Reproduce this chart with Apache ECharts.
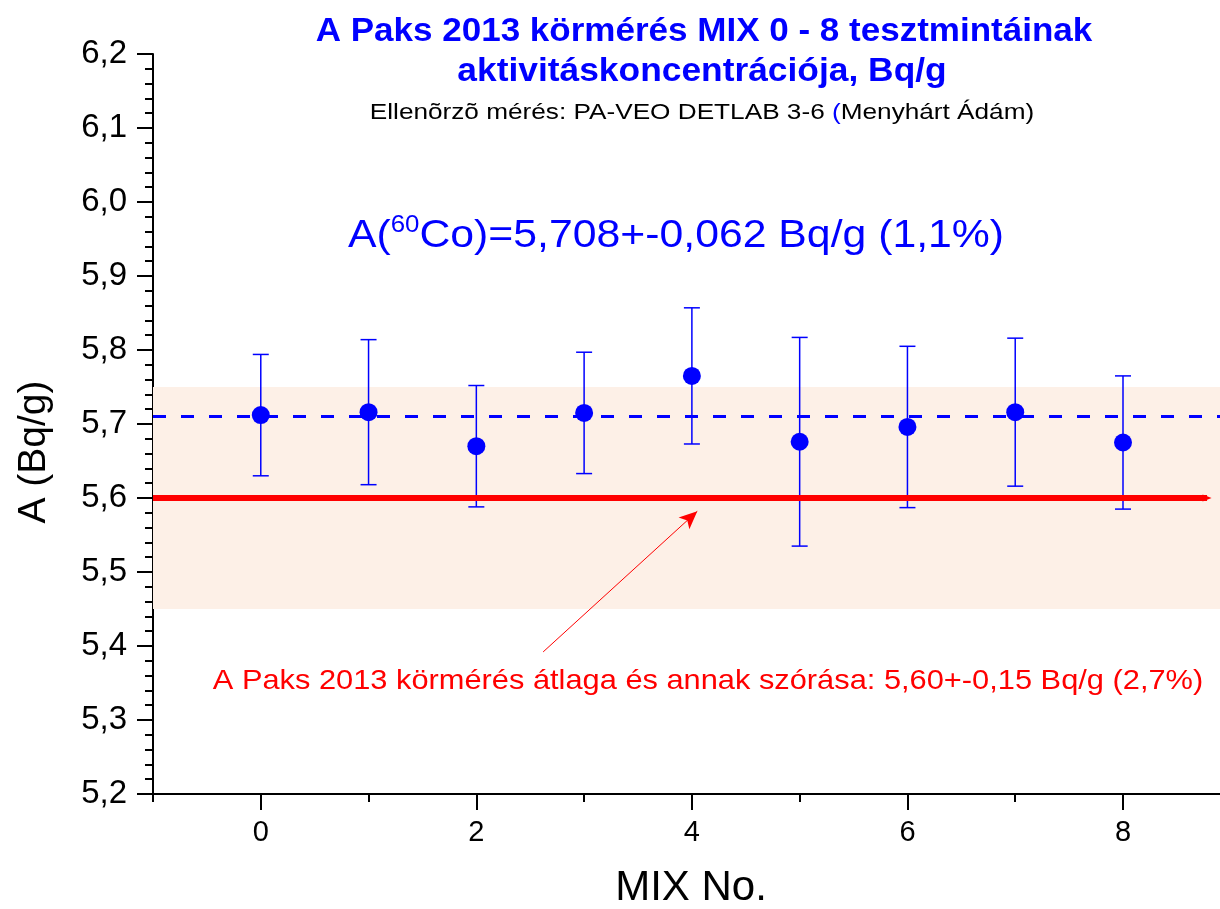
<!DOCTYPE html>
<html>
<head>
<meta charset="utf-8">
<title>A Paks 2013 körmérés MIX 0 - 8</title>
<script src="https://cdn.jsdelivr.net/npm/echarts@6/dist/echarts.min.js"></script>
<style>
  html, body { margin: 0; padding: 0; background: #ffffff; }
  #chart { width: 1220px; height: 909px; }
</style>
</head>
<body>
<div id="chart"></div>
<script>
// MIX test samples and their measured 60Co activity concentration (Bq/g)
const mixNo = [0, 1, 2, 3, 4, 5, 6, 7, 8];
const activity = [5.712, 5.716, 5.670, 5.715, 5.765, 5.676, 5.696, 5.716, 5.675];
const uncertainty = [0.082, 0.098, 0.082, 0.082, 0.092, 0.141, 0.109, 0.100, 0.090];

// Mean of the check measurement and the round-robin reference value
const checkMean = 5.708;
const refMean = 5.60;
const refSd = 0.15;

// Axis ticks
const xMajorTicks = [0, 2, 4, 6, 8];
const xMinorTicks = [-1, 1, 3, 5, 7];
const yTicks = [5.2, 5.3, 5.4, 5.5, 5.6, 5.7, 5.8, 5.9, 6.0, 6.1, 6.2];

// Arrow from the reference-value caption to the red line
const arrowFrom = [2.62, 5.392];
const arrowTo = [4.05, 5.582];

const FONT = "'Liberation Sans', Arial, sans-serif";
const BLUE = '#0000FF';
const RED = '#FF0000';

const points = mixNo.map((x, i) => [x, activity[i]]);
const bars = mixNo.map((x, i) => [x, activity[i] - uncertainty[i], activity[i] + uncertainty[i]]);

const chart = echarts.init(document.getElementById('chart'), null, { renderer: 'canvas' });

// centred text block, optionally widened horizontally
function label(x, y, text, style, scaleX) {
  return {
    type: 'text',
    x: x, y: y,
    scaleX: scaleX || 1,
    style: Object.assign({ x: 0, y: 0, text: text, textAlign: 'center', textVerticalAlign: 'middle' }, style)
  };
}

const option = {
  animation: false,
  backgroundColor: '#ffffff',
  grid: { left: 153, right: 0, top: 54, bottom: 115, containLabel: false },
  xAxis: [
    {
      type: 'value',
      min: -1,
      max: 8.9,
      position: 'bottom',
      splitLine: { show: false },
      axisLine: { show: true, onZero: false, lineStyle: { color: '#000', width: 2 } },
      axisTick: { show: true, length: 16, customValues: xMajorTicks, lineStyle: { color: '#000', width: 2 } },
      axisLabel: {
        customValues: xMajorTicks,
        margin: 24,
        color: '#000',
        fontFamily: FONT,
        fontSize: 29,
        formatter: v => String(v)
      }
    },
    {
      type: 'value',
      min: -1,
      max: 8.9,
      position: 'bottom',
      splitLine: { show: false },
      axisLine: { show: false, onZero: false },
      axisTick: { show: true, length: 8, customValues: xMinorTicks, lineStyle: { color: '#000', width: 2 } },
      axisLabel: { show: false }
    }
  ],
  yAxis: {
    type: 'value',
    min: 5.2,
    max: 6.2,
    interval: 0.1,
    splitLine: { show: false },
    axisLine: { show: true, onZero: false, lineStyle: { color: '#000', width: 2 } },
    axisTick: { show: true, length: 16, lineStyle: { color: '#000', width: 2 } },
    minorTick: { show: true, splitNumber: 5, length: 8, lineStyle: { color: '#000', width: 2 } },
    axisLabel: {
      customValues: yTicks,
      margin: 26,
      color: '#000',
      fontFamily: FONT,
      fontSize: 33,
      formatter: v => v.toFixed(1).replace('.', ',')
    }
  },
  series: [
    {
      // reference band (mean ± SD) and the check-measurement mean
      name: 'band',
      type: 'line',
      data: [],
      silent: true,
      z: 1,
      markArea: {
        silent: true,
        itemStyle: { color: '#FDF0E7' },
        data: [[{ yAxis: refMean - refSd }, { yAxis: refMean + refSd }]]
      },
      markLine: {
        silent: true,
        symbol: 'none',
        label: { show: false },
        lineStyle: { color: BLUE, width: 3, type: [13, 15] },
        data: [{ yAxis: checkMean }]
      }
    },
    {
      // round-robin reference value
      name: 'reference',
      type: 'line',
      data: [],
      silent: true,
      z: 2,
      markLine: {
        silent: true,
        label: { show: false },
        symbol: ['none', 'triangle'],
        symbolSize: [7, 9],
        lineStyle: { color: RED, width: 6, type: 'solid' },
        data: [[
          { coord: [-1, refMean], symbol: 'none' },
          { coord: [8.78, refMean], symbol: 'triangle' }
        ]]
      }
    },
    {
      // caption arrow
      name: 'arrow',
      type: 'line',
      data: [],
      silent: true,
      z: 2,
      markLine: {
        silent: true,
        label: { show: false },
        symbol: ['none', 'arrow'],
        symbolSize: [12, 18],
        lineStyle: { color: RED, width: 1, type: 'solid' },
        data: [[
          { coord: arrowFrom, symbol: 'none' },
          { coord: arrowTo, symbol: 'arrow' }
        ]]
      }
    },
    {
      name: 'uncertainty',
      type: 'custom',
      z: 3,
      silent: true,
      data: bars,
      encode: { x: 0, y: [1, 2] },
      renderItem: function (params, api) {
        const x = api.value(0);
        const top = api.coord([x, api.value(2)]);
        const bot = api.coord([x, api.value(1)]);
        const half = 8;
        const style = { stroke: BLUE, lineWidth: 1.5 };
        return {
          type: 'group',
          children: [
            { type: 'line', shape: { x1: top[0], y1: top[1], x2: bot[0], y2: bot[1] }, style: style },
            { type: 'line', shape: { x1: top[0] - half, y1: top[1], x2: top[0] + half, y2: top[1] }, style: style },
            { type: 'line', shape: { x1: bot[0] - half, y1: bot[1], x2: bot[0] + half, y2: bot[1] }, style: style }
          ]
        };
      }
    },
    {
      name: 'activity',
      type: 'scatter',
      z: 4,
      data: points,
      symbol: 'circle',
      symbolSize: 18,
      itemStyle: { color: BLUE, opacity: 1 }
    }
  ],
  graphic: [
    label(704, 32, 'A Paks 2013 körmérés MIX 0 - 8 tesztmintáinak',
      { fill: BLUE, font: 'bold 34px ' + FONT }, 1.03),
    label(702, 72, 'aktivitáskoncentrációja, Bq/g',
      { fill: BLUE, font: 'bold 34px ' + FONT }, 1.04),
    label(702, 113, '{k|Ellenõrzõ mérés: PA-VEO DETLAB 3-6 }{b|(}{k|Menyhárt Ádám)}', {
      rich: {
        k: { fill: '#000', fontFamily: FONT, fontSize: 22 },
        b: { fill: BLUE, fontFamily: FONT, fontSize: 22 }
      }
    }, 1.19),
    label(676, 235, '{t|A(}{s|60}{t|Co)=5,708+-0,062 Bq/g (1,1%)}', {
      rich: {
        t: { fill: BLUE, fontFamily: FONT, fontSize: 38, verticalAlign: 'bottom', lineHeight: 42 },
        s: { fill: BLUE, fontFamily: FONT, fontSize: 23, verticalAlign: 'top', lineHeight: 42, padding: [0, 0, 17, 0] }
      }
    }, 1.125),
    label(708, 681, 'A Paks 2013 körmérés átlaga és annak szórása: 5,60+-0,15 Bq/g (2,7%)',
      { fill: RED, fontFamily: FONT, fontSize: 28 }, 1.1),
    {
      type: 'text',
      rotation: Math.PI / 2,
      x: 34, y: 452,
      style: {
        x: 0, y: 0,
        text: 'A (Bq/g)',
        fill: '#000', fontFamily: FONT, fontSize: 39,
        textAlign: 'center', textVerticalAlign: 'middle'
      }
    },
    label(691, 888, 'MIX No.', { fill: '#000', fontFamily: FONT, fontSize: 42 }, 1)
  ]
};

chart.setOption(option);
</script>
</body>
</html>
